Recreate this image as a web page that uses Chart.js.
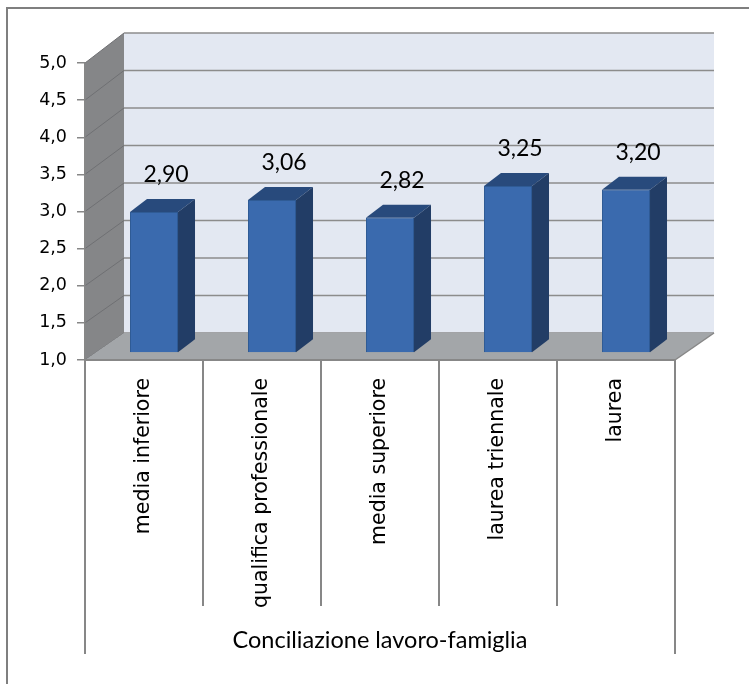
<!DOCTYPE html>
<html>
<head>
<meta charset="utf-8">
<script src="https://cdn.jsdelivr.net/npm/chart.js@4.4.1/dist/chart.umd.min.js"></script>
<style>
  html, body { margin: 0; padding: 0; background: #ffffff; }
  canvas { display: block; }
</style>
</head>
<body>
<canvas id="chart" width="749" height="684"></canvas>
<script>
// Data
const categories = ['media inferiore', 'qualifica professionale', 'media superiore', 'laurea triennale', 'laurea'];
const scores = [2.90, 3.06, 2.82, 3.25, 3.20];
const axisTitle = 'Conciliazione lavoro-famiglia';
const yMin = 1;
const yMax = 5;
const yStep = 0.5;

// Italian decimal comma
const fmt = (v, digits) => v.toFixed(digits).replace('.', ',');

// Pseudo-3D geometry: wall depth and the bars' depth slot
const WALL = { dx: 39, dyBottom: -27, dyTop: -30 };
const BAR = { shiftX: 10, shiftY: -7, dx: 17, dy: -13 };
const LABEL = { dx: 12, dy: -37 };

const COLORS = {
  back: '#e3e8f2',
  side: '#858688',
  floor: '#a3a6a9',
  grid: '#8c8c8c',
  sideGrid: '#6f7073',
  axis: '#878787',
  frame: '#7f7f7f',
  barFront: '#3a6aae',
  barEdge: '#2f5b95',
  barTop: '#284a7c',
  barSide: '#223d66'
};

function depthY(scale, v) {
  const t = (v - scale.min) / (scale.max - scale.min);
  return WALL.dyBottom + (WALL.dyTop - WALL.dyBottom) * t;
}

function fillPoly(ctx, pts, color) {
  ctx.beginPath();
  ctx.moveTo(pts[0][0], pts[0][1]);
  for (let i = 1; i < pts.length; i++) ctx.lineTo(pts[i][0], pts[i][1]);
  ctx.closePath();
  ctx.fillStyle = color;
  ctx.fill();
}

function line(ctx, x1, y1, x2, y2, color, w) {
  ctx.beginPath();
  ctx.moveTo(x1, y1);
  ctx.lineTo(x2, y2);
  ctx.strokeStyle = color;
  ctx.lineWidth = w;
  ctx.stroke();
}

const box3d = {
  id: 'box3d',
  beforeDraw(chart) {
    const { ctx, chartArea: a, scales: { x, y } } = chart;
    ctx.save();
    ctx.fillStyle = '#ffffff';
    ctx.fillRect(0, 0, chart.width, chart.height);

    // outer frame (top and left edges)
    ctx.beginPath();
    ctx.moveTo(7, chart.height);
    ctx.lineTo(7, 8);
    ctx.lineTo(chart.width, 8);
    ctx.strokeStyle = COLORS.frame;
    ctx.lineWidth = 2;
    ctx.stroke();

    const L = a.left, R = a.right;
    const yb = y.getPixelForValue(y.min), yt = y.getPixelForValue(y.max);
    const bb = yb + depthY(y, y.min), bt = yt + depthY(y, y.max);
    const D = WALL.dx;

    // back wall
    ctx.fillStyle = COLORS.back;
    ctx.fillRect(L + D, bt, R - L, bb - bt);
    // side wall
    fillPoly(ctx, [[L, yb], [L, yt], [L + D, bt], [L + D, bb]], COLORS.side);

    // gridlines on the back and side walls
    y.ticks.forEach(t => {
      const v = t.value;
      const fy = y.getPixelForValue(v);
      const by = fy + depthY(y, v);
      line(ctx, L + D, by, R + D, by, COLORS.grid, 1.5);
      line(ctx, L, fy, L + D, by, COLORS.sideGrid, 1);
    });

    // floor
    fillPoly(ctx, [[L, yb], [R, yb], [R + D, bb], [L + D, bb]], COLORS.floor);
    line(ctx, R, yb, R + D, bb, COLORS.axis, 1.5);

    // category table below the floor
    line(ctx, L, yb, R, yb, COLORS.axis, 2);
    const n = categories.length;
    for (let i = 0; i <= n; i++) {
      const px = i < n ? x.getPixelForValue(i) - (R - L) / n / 2 : R;
      const outer = (i === 0 || i === n);
      line(ctx, px, yb, px, outer ? 654 : 606, COLORS.axis, 2);
    }
    ctx.restore();
  },
  beforeDatasetsDraw(chart) {
    chart.ctx.save();
    chart.ctx.translate(BAR.shiftX, BAR.shiftY);
  },
  afterDatasetsDraw(chart) {
    const ctx = chart.ctx;
    const meta = chart.getDatasetMeta(0);
    meta.data.forEach(bar => {
      const { x, y, width, base } = bar.getProps(['x', 'y', 'width', 'base'], true);
      const l = x - width / 2, r = x + width / 2;
      fillPoly(ctx, [[l, y], [r, y], [r + BAR.dx, y + BAR.dy], [l + BAR.dx, y + BAR.dy]], COLORS.barTop);
      fillPoly(ctx, [[r, y], [r + BAR.dx, y + BAR.dy], [r + BAR.dx, base + BAR.dy], [r, base]], COLORS.barSide);
    });
    ctx.restore();

    // value labels
    ctx.save();
    ctx.font = '23px Lato';
    ctx.fillStyle = '#000000';
    ctx.textAlign = 'center';
    ctx.textBaseline = 'middle';
    meta.data.forEach((bar, i) => {
      const { x, y } = bar.getProps(['x', 'y'], true);
      ctx.fillText(fmt(scores[i], 2), x + BAR.shiftX + LABEL.dx, y + BAR.shiftY + LABEL.dy);
    });
    ctx.restore();
  }
};

new Chart(document.getElementById('chart'), {
  type: 'bar',
  data: {
    labels: categories,
    datasets: [{
      data: scores,
      base: yMin,
      backgroundColor: COLORS.barFront,
      borderColor: COLORS.barEdge,
      borderWidth: 1,
      barPercentage: 0.407,
      categoryPercentage: 1
    }]
  },
  options: {
    responsive: false,
    animation: false,
    events: [],
    layout: { padding: { left: 0, top: 63, right: 74, bottom: 0 } },
    plugins: { legend: { display: false }, tooltip: { enabled: false } },
    scales: {
      x: {
        grid: { display: false, drawTicks: false },
        border: { display: false },
        ticks: {
          autoSkip: false,
          minRotation: 90,
          maxRotation: 90,
          padding: 18,
          color: '#000000',
          font: { family: 'DejaVu Sans', size: 20.5 }
        },
        title: {
          display: true,
          text: axisTitle,
          color: '#000000',
          font: { family: 'Lato', size: 23.5 },
          padding: { top: 0, bottom: 29 }
        },
        afterFit(scale) { scale.height = 324; }
      },
      y: {
        min: yMin,
        max: yMax,
        ticks: {
          stepSize: yStep,
          padding: 10,
          color: '#000000',
          font: { family: 'DejaVu Sans', size: 17.5 },
          callback: v => fmt(v, 1)
        },
        grid: { drawOnChartArea: false, drawTicks: true, tickLength: 8, color: COLORS.axis, lineWidth: 1.5 },
        border: { display: true, color: COLORS.axis, width: 1.5 },
        afterFit(scale) { scale.width = 85; }
      }
    }
  },
  plugins: [box3d]
});
</script>
</body>
</html>
